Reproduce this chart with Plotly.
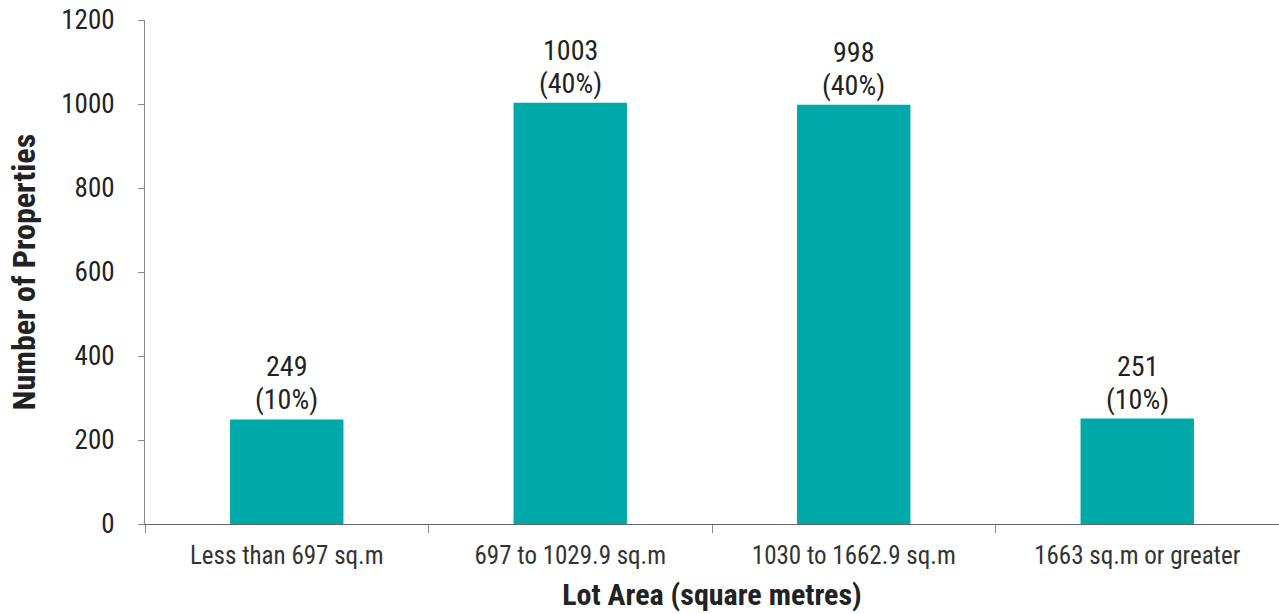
import plotly.graph_objects as go

categories = ["Less than 697 sq.m", "697 to 1029.9 sq.m", "1030 to 1662.9 sq.m", "1663 sq.m or greater"]
counts = [249, 1003, 998, 251]
percents = ["10%", "40%", "40%", "10%"]
y_ticks = [0, 200, 400, 600, 800, 1000, 1200]

FONT = "Roboto Condensed, Liberation Sans Narrow, Roboto, sans-serif"

fig = go.Figure(go.Bar(
    x=categories, y=counts,
    marker=dict(color="#00A9A9", line=dict(width=0)),
    width=0.4, showlegend=False,
))

# value labels: count line and percentage line, anchored at each bar top
for c, v, p in zip(categories, counts, percents):
    fig.add_annotation(x=c, y=v, text=f"({p})", showarrow=False, yanchor="bottom",
                       yshift=2, borderpad=0, font=dict(family=FONT, size=28, color="#222"))
    fig.add_annotation(x=c, y=v, text=f"{v}", showarrow=False, yanchor="bottom",
                       yshift=35, borderpad=0, font=dict(family=FONT, size=28, color="#222"))

fig.update_layout(
    width=1279, height=614,
    margin=dict(l=145, r=0, t=20, b=90),
    plot_bgcolor="white", paper_bgcolor="white",
    font=dict(family=FONT, size=25, color="#333"),
)
fig.update_yaxes(
    range=[0, 1200], tickvals=y_ticks, showgrid=False, zeroline=False,
    showline=True, linecolor="#8a8a8a", linewidth=1,
    ticks="outside", ticklen=6, tickcolor="#8a8a8a",
    ticklabelstandoff=18,
    tickfont=dict(family=FONT, size=27, color="#222"),
    title=dict(text="<b>Number of Properties</b>", font=dict(family=FONT, size=32, color="#222"), standoff=16),
)
fig.update_xaxes(
    showgrid=False, zeroline=False, showline=True, linecolor="#666", linewidth=1,
    ticks="outside", tickson="boundaries", ticklen=8, tickcolor="#8a8a8a",
    ticklabelstandoff=9,
    tickfont=dict(family=FONT, size=25, color="#333"),
    title=dict(text="<b>Lot Area (square metres)</b>", font=dict(family=FONT, size=30, color="#222"), standoff=14),
)

fig.write_html("out.html")
